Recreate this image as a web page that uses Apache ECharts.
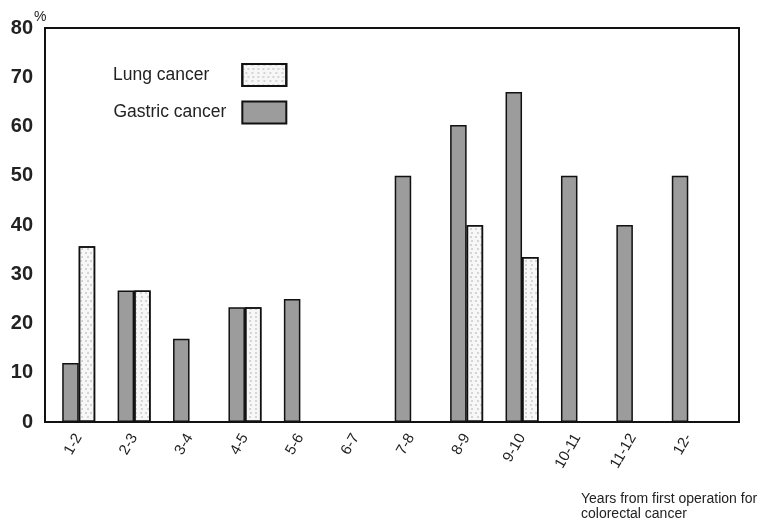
<!DOCTYPE html>
<html><head><meta charset="utf-8">
<script src="https://cdn.jsdelivr.net/npm/echarts@6/dist/echarts.min.js"></script>
<style>html,body{margin:0;padding:0;background:#fff}#c{width:770px;height:527px}</style>
</head><body><div id="c"></div>
<script>
const categories = ['1-2','2-3','3-4','4-5','5-6','6-7','7-8','8-9','9-10','10-11','11-12','12-'];
const gastric = [12, 26.7, 16.9, 23.3, 25, null, 50, 60.3, 67, 50, 40, 50];
const lung = [35.7, 26.7, null, 23.3, null, null, null, 40, 33.5, null, null, null];
const yTicks = [0, 10, 20, 30, 40, 50, 60, 70, 80];
const yUnit = '%';
const xTitle = 'Years from first operation for\ncolorectal cancer';

const chart = echarts.init(document.getElementById('c'), null, {renderer: 'canvas'});
const font = 'Liberation Sans, Arial, sans-serif';
chart.setOption({
  animation: false,
  backgroundColor: '#fff',
  grid: [
    {left: 45, right: 31, top: 28, bottom: 105, show: true, borderColor: '#111', borderWidth: 2, backgroundColor: 'transparent'},
    {left: 51, right: 54, top: 28, bottom: 105}
  ],
  xAxis: [
    {gridIndex: 0, type: 'category', data: categories, show: false},
    {gridIndex: 1, type: 'category', data: categories,
     axisLine: {show: false}, axisTick: {show: false},
     axisLabel: {rotate: 60, fontSize: 15, color: '#222', fontFamily: font, margin: 13, interval: 0}}
  ],
  yAxis: [
    {gridIndex: 0, type: 'value', min: yTicks[0], max: yTicks[yTicks.length-1], interval: 10,
     axisLine: {show: false}, axisTick: {show: false}, splitLine: {show: false},
     axisLabel: {fontSize: 20, fontWeight: 'bold', color: '#222', fontFamily: font, margin: 12}},
    {gridIndex: 1, type: 'value', min: 0, max: 80, show: false, splitLine: {show: false}}
  ],
  legend: {
    orient: 'vertical', left: 113, top: 63, align: 'right', padding: 0,
    itemWidth: 44, itemHeight: 22, itemGap: 13.5, icon: 'rect',
    data: [
      {name: 'Lung cancer', textStyle: {padding: [0, 28, 0, 0]}},
      {name: 'Gastric cancer', textStyle: {padding: [0, 11, 0, 0]}}
    ],
    textStyle: {fontSize: 17.5, color: '#222', fontFamily: font}
  },
  series: [
    {name: 'Gastric cancer', type: 'bar', xAxisIndex: 1, yAxisIndex: 1, data: gastric,
     barWidth: 16.5, barGap: '0%',
     itemStyle: {color: '#9c9c9c', borderColor: '#111', borderWidth: 1.5}},
    {name: 'Lung cancer', type: 'bar', xAxisIndex: 1, yAxisIndex: 1, data: lung,
     barWidth: 16.5, barGap: '0%',
     itemStyle: {color: '#f7f7f7', borderColor: '#111', borderWidth: 1.5,
       decal: {symbol: 'circle', symbolSize: 0.8, color: 'rgba(120,120,120,0.6)',
               dashArrayX: [[2, 3], [0, 2.5, 2, 0.5]], dashArrayY: [2, 1.5]}}}
  ],
  graphic: [
    {type: 'text', left: 34, top: 10,
     style: {text: yUnit, fontSize: 14, fill: '#222', fontFamily: font}},
    {type: 'text', left: 581, top: 492,
     style: {text: xTitle, fontSize: 14, lineHeight: 15, fill: '#222', fontFamily: font}}
  ]
});
</script></body></html>
